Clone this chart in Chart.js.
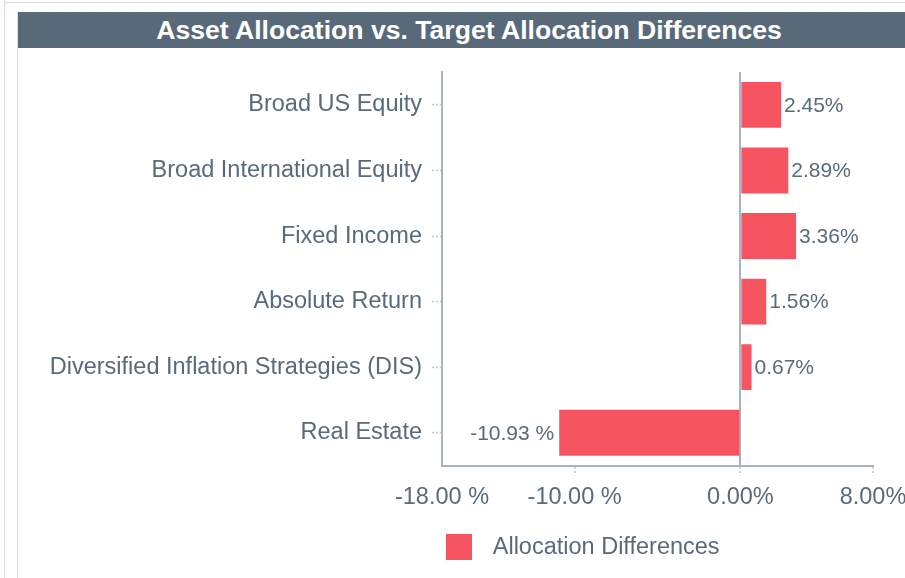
<!DOCTYPE html>
<html>
<head>
<meta charset="utf-8">
<script src="https://cdn.jsdelivr.net/npm/chart.js@4"></script>
<style>
  html, body { margin: 0; padding: 0; background: #ffffff; }
  body { width: 905px; height: 578px; position: relative; overflow: hidden; font-family: "Liberation Sans", Arial, sans-serif; }
  #outerL { position: absolute; left: 4px; top: 0; width: 1px; height: 578px; background: #d6dce2; }
  #outerT { position: absolute; left: 4px; top: 2px; width: 901px; height: 1px; background: #d6dce2; }
  #cardL { position: absolute; left: 17px; top: 12px; width: 1px; height: 566px; background: #d6dce2; }
  #title { position: absolute; left: 18px; top: 12px; width: 887px; height: 36px; background: #586a7a;
           color: #ffffff; font: bold 26.6px "Liberation Sans", Arial, sans-serif; line-height: 36px;
           text-align: center; box-sizing: border-box; padding-left: 15px; white-space: nowrap; }
  #wrap { position: absolute; left: 18px; top: 48px; width: 887px; height: 530px; }
</style>
</head>
<body>
<div id="outerL"></div>
<div id="outerT"></div>
<div id="cardL"></div>
<div id="title">Asset Allocation vs. Target Allocation Differences</div>
<div id="wrap"><canvas id="c" width="887" height="530"></canvas></div>
<script>
const categories = ["Broad US Equity", "Broad International Equity", "Fixed Income", "Absolute Return", "Diversified Inflation Strategies (DIS)", "Real Estate"];
const allocationDifferences = [2.45, 2.89, 3.36, 1.56, 0.67, -10.93];
const seriesName = "Allocation Differences";
const xTickValues = [-18, -10, 0, 8];
const xTickLabels = ["-18.00 %", "-10.00 %", "0.00%", "8.00%"];

const FONT = '"Liberation Sans", Arial, sans-serif';
const TEXT = '#596a7b';
const BAR = '#f75462';
const AXIS = '#a9b4bf';

// legend swatch: 26x26 square inside a wider transparent image
const sw = document.createElement('canvas');
sw.width = 41; sw.height = 26;
const swc = sw.getContext('2d');
swc.fillStyle = BAR; swc.fillRect(0, 0, 26, 26);

const dataLabels = {
  id: 'dataLabels',
  afterDatasetsDraw(chart) {
    const ctx = chart.ctx;
    const meta = chart.getDatasetMeta(0);
    ctx.save();
    ctx.font = '21px ' + FONT;
    ctx.fillStyle = TEXT;
    ctx.textBaseline = 'middle';
    meta.data.forEach((el, i) => {
      const v = allocationDifferences[i];
      const txt = v < 0 ? v.toFixed(2) + ' %' : v.toFixed(2) + '%';
      if (v < 0) { ctx.textAlign = 'right'; ctx.fillText(txt, el.x - 5, el.y + 1); }
      else { ctx.textAlign = 'left'; ctx.fillText(txt, el.x + 3, el.y + 1); }
    });
    ctx.restore();
  }
};

new Chart(document.getElementById('c'), {
  type: 'bar',
  data: {
    labels: categories,
    datasets: [{
      label: seriesName,
      data: allocationDifferences,
      backgroundColor: BAR,
      borderWidth: 0,
      categoryPercentage: 0.7,
      barPercentage: 1.0
    }]
  },
  options: {
    indexAxis: 'y',
    responsive: false,
    animation: false,
    layout: { padding: { left: 0, right: 32, top: 24, bottom: 9 } },
    plugins: {
      title: { display: false },
      tooltip: { enabled: false },
      legend: {
        position: 'bottom',
        align: 'start',
        fullSize: false,
        labels: {
          usePointStyle: true,
          pointStyle: sw,
          pointStyleWidth: 29,
          boxHeight: 26,
          padding: 10,
          color: TEXT,
          font: { family: FONT, size: 23.5 }
        }
      }
    },
    scales: {
      x: {
        type: 'linear',
        min: -18,
        max: 8,
        afterBuildTicks(scale) { scale.ticks = xTickValues.map(v => ({ value: v })); },
        afterFit(scale) { scale.height = 60; scale.paddingLeft = 0; scale.paddingRight = 0; },
        ticks: {
          autoSkip: false,
          maxRotation: 0,
          padding: 8,
          color: TEXT,
          font: { family: FONT, size: 23.5 },
          callback(value) { const i = xTickValues.indexOf(value); return i >= 0 ? xTickLabels[i] : ''; }
        },
        grid: {
          drawOnChartArea: true,
          color: (c) => (c.tick && c.tick.value === 0) ? AXIS : 'rgba(0,0,0,0)',
          lineWidth: 2,
          tickLength: 10,
          tickColor: (c) => (c.tick && c.tick.value === -18) ? 'rgba(0,0,0,0)' : '#c3c9cf',
          tickWidth: 1.5,
          tickBorderDash: [2, 2]
        },
        border: { display: true, color: AXIS, width: 2 }
      },
      y: {
        afterFit(scale) { scale.width = 424; },
        ticks: {
          padding: 10,
          color: TEXT,
          font: { family: FONT, size: 23.5 }
        },
        grid: {
          offset: false,
          drawOnChartArea: false,
          tickLength: 10,
          tickColor: '#c3c9cf',
          tickWidth: 1.5,
          tickBorderDash: [2, 2]
        },
        border: { display: true, color: AXIS, width: 2 }
      }
    }
  },
  plugins: [dataLabels]
});
</script>
</body>
</html>
